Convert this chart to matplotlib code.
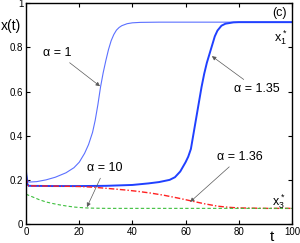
import matplotlib
matplotlib.use("Agg")
from matplotlib import pyplot as plt

# alpha = 1 (thin blue)
t_a1 = [0, 0.5, 1, 4, 7.5, 11, 15, 18, 20, 22, 23.5, 25, 26, 27, 28, 29, 30,
        31, 32, 33, 34, 35, 36, 38, 40, 43, 50, 100]
x_a1 = [0.25, 0.2, 0.19, 0.192, 0.2, 0.212, 0.232, 0.255, 0.28, 0.32, 0.36,
        0.415, 0.47, 0.54, 0.62, 0.685, 0.74, 0.79, 0.83, 0.858, 0.878, 0.89,
        0.898, 0.907, 0.911, 0.913, 0.914, 0.914]

# alpha = 1.35 (thick blue)
t_a135 = [0, 0.5, 1, 10, 20, 30, 40, 46, 50, 54, 56, 58, 60, 61, 62, 63, 64,
          65, 66, 67, 68, 69, 70, 71, 72, 73.5, 75, 78, 80, 100]
x_a135 = [0.22, 0.18, 0.173, 0.172, 0.172, 0.173, 0.177, 0.184, 0.19, 0.2,
          0.212, 0.238, 0.28, 0.305, 0.34, 0.41, 0.48, 0.55, 0.62, 0.68, 0.73,
          0.77, 0.81, 0.85, 0.876, 0.898, 0.907, 0.913, 0.914, 0.914]

# alpha = 1.36 (red dash-dot)
t_a136 = [0, 0.5, 1, 10, 20, 25, 30, 37.5, 42, 47, 52, 57, 62, 67, 72, 76, 80,
          85, 90, 100]
x_a136 = [0.21, 0.18, 0.173, 0.172, 0.17, 0.167, 0.162, 0.154, 0.148, 0.14,
          0.13, 0.118, 0.105, 0.092, 0.081, 0.076, 0.073, 0.072, 0.071, 0.071]

# alpha = 10 (green dashed)
t_a10 = [0, 2, 5, 7.5, 10, 12.5, 15, 18, 20, 22.5, 25, 30, 100]
x_a10 = [0.135, 0.125, 0.11, 0.1, 0.093, 0.087, 0.082, 0.077, 0.075, 0.073,
         0.072, 0.071, 0.071]

xticks = [0, 20, 40, 60, 80, 100]
yticks = [0, 0.2, 0.4, 0.6, 0.8, 1]
ytick_labels = ["0", "0.2", "0.4", "0.6", "0.8", "1"]

plt.rcParams['font.family'] = ['Liberation Sans', 'DejaVu Sans']

fig = plt.figure(figsize=(3, 2.43), dpi=100)
ax = fig.add_axes([0.087, 0.078, 0.886, 0.909])

ax.plot(t_a1, x_a1, color='#5b70ff', lw=0.8)
ax.plot(t_a135, x_a135, color='#2040ff', lw=1.4)
ax.plot(t_a136, x_a136, color='#ff2020', lw=1.0, ls=(0, (4, 1.5, 1, 1.5)))
ax.plot(t_a10, x_a10, color='#3cbf3c', lw=0.8, ls=(0, (3, 2)))

ax.set_xlim(0, 100)
ax.set_ylim(0, 1)
ax.set_xticks(xticks)
ax.set_yticks(yticks)
ax.set_yticklabels(ytick_labels)
ax.tick_params(direction='in', length=3, width=0.8, top=True, right=True,
               labelsize=7, pad=2)
for s in ax.spines.values():
    s.set_linewidth(1.0)

arrow = dict(arrowstyle='-|>', lw=0.5, color='0.35', mutation_scale=6,
             shrinkA=1, shrinkB=0)
ax.annotate('α = 1', xy=(27.8, 0.624), xytext=(11.7, 0.774), fontsize=9,
            ha='center', va='center', arrowprops=arrow)
ax.annotate('α = 1.35', xy=(69.9, 0.76), xytext=(86.8, 0.611), fontsize=9,
            ha='center', va='center', arrowprops=arrow)
ax.annotate('α = 10', xy=(22.9, 0.077), xytext=(29.7, 0.253), fontsize=9,
            ha='center', va='center', arrowprops=arrow)
ax.annotate('α = 1.36', xy=(61.7, 0.1), xytext=(80.5, 0.303), fontsize=9,
            ha='center', va='center', arrowprops=arrow)

ax.text(95.9, 0.846, r'$\mathregular{x^*_1}$', fontsize=9, ha='center', va='center')
ax.text(95.1, 0.10, r'$\mathregular{x^*_3}$', fontsize=9, ha='center', va='center')
ax.text(95.5, 0.955, '(c)', fontsize=9, ha='center', va='center')

fig.text(0.037, 0.895, 'x(t)', fontsize=10, ha='center', va='center')
fig.text(0.907, 0.025, 't', fontsize=11, ha='center', va='center')

fig.savefig('out.png', dpi=100)
plt.close()
